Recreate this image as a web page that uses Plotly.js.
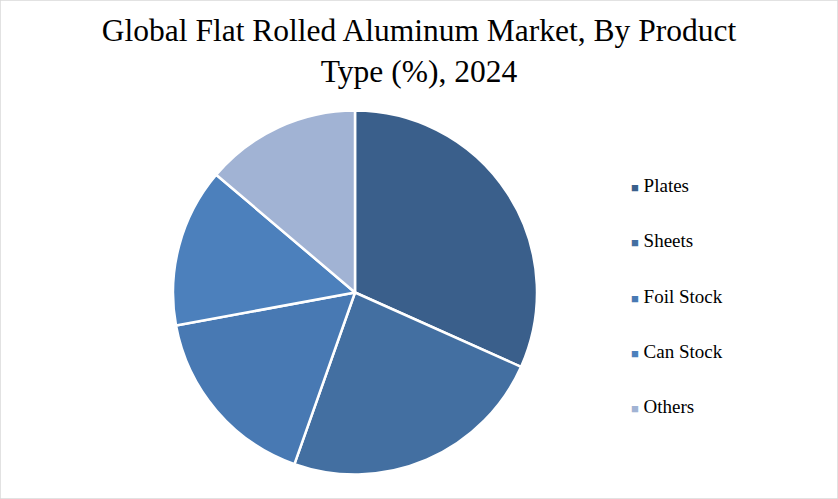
<!DOCTYPE html>
<html>
<head>
<meta charset="utf-8">
<script src="https://cdn.plot.ly/plotly-3.0.1.min.js"></script>
<style>
  html, body { margin: 0; padding: 0; background: #fff; }
  #chart { width: 838px; height: 499px; }
</style>
</head>
<body>
<div id="chart"></div>
<script>
// product types, share of 2024 market (%)
var productTypes = ['Plates', 'Sheets', 'Foil Stock', 'Can Stock', 'Others'];
var shares = [31.7, 23.7, 16.7, 14.1, 13.8];
var sliceColors = ['#3a5f8b', '#436fa1', '#4879b3', '#4c80bc', '#a1b3d4'];

var W = 838, H = 499;
var cx = 355, cy = 292.5, r = 182;

var pie = {
  type: 'pie',
  labels: productTypes,
  values: shares,
  sort: false,
  direction: 'clockwise',
  rotation: 0,
  textinfo: 'none',
  hoverinfo: 'label+percent',
  showlegend: false,
  marker: { colors: sliceColors, line: { color: '#ffffff', width: 2.5 } },
  domain: {
    x: [(cx - r) / W, (cx + r) / W],
    y: [(H - cy - r) / H, (H - cy + r) / H]
  }
};

// legend drawn as text so the rows can be spaced like the original
var legendY0 = 186, legendStep = 55;
var annotations = productTypes.map(function (name, i) {
  return {
    xref: 'paper', yref: 'paper',
    x: 629 / W, y: 1 - (legendY0 + i * legendStep) / H,
    xanchor: 'left', yanchor: 'middle',
    showarrow: false,
    text: '<span style="color:' + sliceColors[i] + ';font-size:13px">\u25A0</span> ' + name,
    font: { family: 'Liberation Serif, serif', size: 19, color: '#000' }
  };
});

var layout = {
  width: W, height: H,
  margin: { l: 0, r: 0, t: 0, b: 0 },
  paper_bgcolor: '#ffffff',
  title: {
    text: 'Global Flat Rolled Aluminum Market, By Product<br>Type (%), 2024',
    font: { family: 'Liberation Serif, serif', size: 31.5, color: '#000' },
    x: 0.5, xanchor: 'center',
    y: 1 - 41 / H, yanchor: 'middle'
  },
  annotations: annotations,
  shapes: [{
    type: 'rect', xref: 'paper', yref: 'paper',
    x0: 0, x1: 1, y0: 0, y1: 1,
    line: { color: '#d9d9d9', width: 1.5 }
  }]
};

Plotly.newPlot('chart', [pie], layout, { displayModeBar: false, staticPlot: true });
</script>
</body>
</html>
